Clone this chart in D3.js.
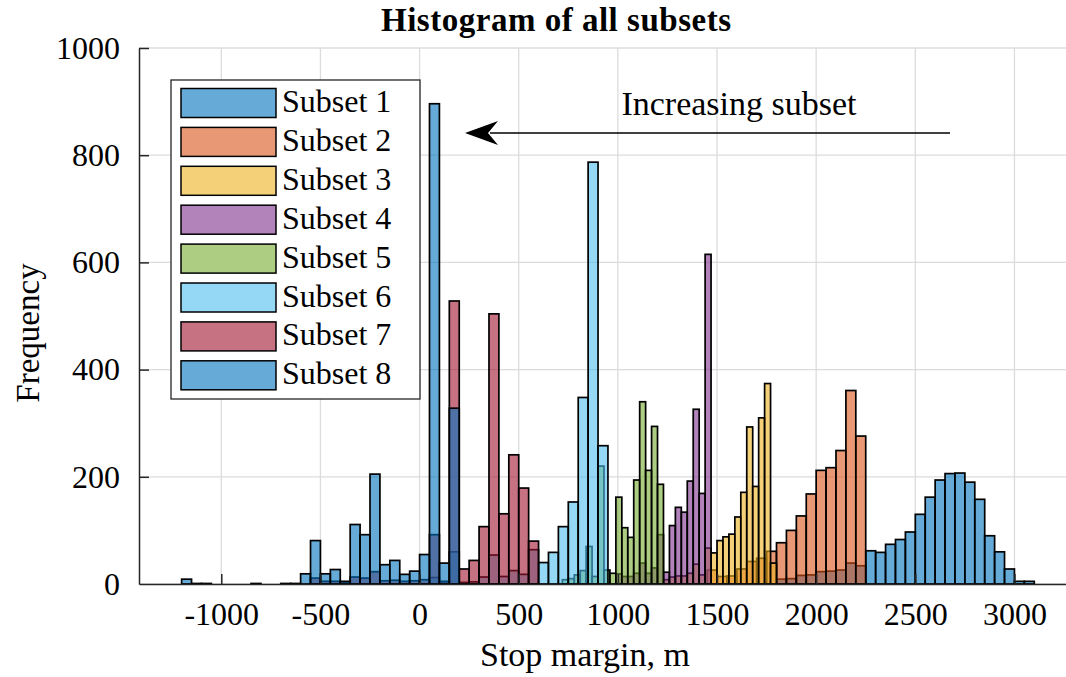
<!DOCTYPE html>
<html>
<head>
<meta charset="utf-8">
<script src="https://cdn.jsdelivr.net/npm/d3@7"></script>
<style>
  body { margin: 0; background: #fff; }
  svg text { font-family: "Liberation Serif", "Times New Roman", serif; fill: #000; }
</style>
</head>
<body>
<div id="chart"></div>
<script>
// subsets, drawn in this order (later ones on top)
const subsetNames = ["Subset 1", "Subset 2", "Subset 3", "Subset 4", "Subset 5", "Subset 6", "Subset 7", "Subset 8"];
const subsetColors = ["#0072BD", "#D95319", "#EDB120", "#7E2F8E", "#77AC30", "#4DBEEE", "#A2142F", "#0072BD"];
const binWidths = [50, 50, 30, 30, 30, 50, 50, 50];
const binStarts = [1800, 1450, 1230, 990, 720, 50, -550, -1200];

// counts per bin, starting at binStarts[i]
const counts1 = [9, 10, 16, 17, 23, 24, 26, 39, 34, 62, 59, 74, 83, 97, 130, 162, 194, 206, 207, 190, 158, 90, 60, 28, 5, 5];
const counts2 = [26, 14, 15, 28, 42, 48, 61, 77, 100, 127, 168, 212, 217, 249, 361, 276];
const counts3 = [8, 13, 15, 15, 20, 37, 17, 67, 58, 81, 88, 93, 125, 171, 293, 182, 310, 374, 39];
const counts4 = [19, 14, 14, 20, 39, 20, 30, 92, 22, 109, 143, 134, 192, 326, 169, 615];
const counts5 = [8, 10, 17, 25, 70, 14, 220, 26, 20, 162, 105, 87, 194, 340, 212, 294, 186];
const counts6 = [12, 4, 60, 3, 4, 13, 54, 14, 25, 18, 64, 40, 59, 107, 153, 348, 787, 258];
const counts7 = [11, 5, 5, 2, 13, 11, 23, 6, 7, 5, 6, 8, 92, 5, 528, 28, 44, 107, 504, 131, 241, 179, 80];
const counts8 = [9, 1, 1, 0, 0, 0, 0, 1, 0, 0, 1, 1, 19, 81, 19, 27, 5, 111, 92, 205, 36, 44, 18, 24, 55, 896, 39, 328];
const allCounts = [counts1, counts2, counts3, counts4, counts5, counts6, counts7, counts8];

const xTicks = [-1000, -500, 0, 500, 1000, 1500, 2000, 2500, 3000];
const yTicks = [0, 200, 400, 600, 800, 1000];
const xLimits = [-1415, 3260];
const yLimits = [0, 1000];

const W = 1066, H = 677;
const plot = {left: 139, right: 1066, top: 48, bottom: 584};
const axisColor = "#262626";

const svg = d3.select("#chart").append("svg")
  .attr("width", W)
  .attr("height", H);

const x = d3.scaleLinear().domain(xLimits).range([plot.left, plot.right]);
const y = d3.scaleLinear().domain(yLimits).range([plot.bottom, plot.top]);

// grid
svg.append("g").selectAll("line")
  .data(xTicks)
  .join("line")
  .attr("x1", d => x(d)).attr("x2", d => x(d))
  .attr("y1", plot.top).attr("y2", plot.bottom)
  .attr("stroke", "#dcdcdc").attr("stroke-width", 1.3);
svg.append("g").selectAll("line")
  .data(yTicks)
  .join("line")
  .attr("x1", plot.left).attr("x2", plot.right)
  .attr("y1", d => y(d)).attr("y2", d => y(d))
  .attr("stroke", "#dcdcdc").attr("stroke-width", 1.3);

// bars
allCounts.forEach((counts, i) => {
  const w = binWidths[i];
  const start = binStarts[i];
  svg.append("g")
    .selectAll("rect")
    .data(counts)
    .join("rect")
    .attr("x", (d, j) => x(start + j * w))
    .attr("width", (d, j) => x(start + (j + 1) * w) - x(start + j * w))
    .attr("y", d => y(d))
    .attr("height", d => y(0) - y(d))
    .attr("fill", subsetColors[i])
    .attr("fill-opacity", 0.6)
    .attr("stroke", "#000")
    .attr("stroke-width", 1.7);
});

// axes
const fmt = d => String(d);
const xAxis = svg.append("g")
  .attr("transform", `translate(0, ${plot.bottom})`)
  .call(d3.axisBottom(x).tickValues(xTicks).tickFormat(fmt).tickSize(-10).tickSizeOuter(0).tickPadding(18));
const yAxis = svg.append("g")
  .attr("transform", `translate(${plot.left}, 0)`)
  .call(d3.axisLeft(y).tickValues(yTicks).tickFormat(fmt).tickSize(-10).tickSizeOuter(0).tickPadding(19));

[xAxis, yAxis].forEach(g => {
  g.select(".domain").attr("stroke", axisColor).attr("stroke-width", 1.5);
  g.selectAll(".tick line").attr("stroke", axisColor).attr("stroke-width", 1.5);
  g.selectAll(".tick text")
    .attr("fill", "#000")
    .style("font-family", '"Liberation Serif", serif')
    .style("font-size", "32px");
});
yAxis.selectAll(".tick line").filter(d => d === 0).remove();

// labels
svg.append("text")
  .attr("x", 556).attr("y", 31)
  .attr("text-anchor", "middle")
  .style("font-size", "33px").style("font-weight", "bold")
  .attr("textLength", 350)
  .text("Histogram of all subsets");

svg.append("text")
  .attr("x", 585).attr("y", 666)
  .attr("text-anchor", "middle")
  .style("font-size", "34px")
  .text("Stop margin, m");

svg.append("text")
  .attr("transform", "translate(39, 333) rotate(-90)")
  .attr("text-anchor", "middle")
  .style("font-size", "33px")
  .text("Frequency");

// annotation arrow
svg.append("text")
  .attr("x", 739).attr("y", 115)
  .attr("text-anchor", "middle")
  .style("font-size", "34px")
  .text("Increasing subset");

svg.append("line")
  .attr("x1", 950).attr("y1", 133)
  .attr("x2", 490).attr("y2", 133)
  .attr("stroke", "#000").attr("stroke-width", 1.5);
svg.append("path")
  .attr("d", "M465,133 L498,121 L488,133 L498,145 Z")
  .attr("fill", "#000");

// legend
const legend = svg.append("g");
legend.append("rect")
  .attr("x", 171).attr("y", 80)
  .attr("width", 249).attr("height", 319)
  .attr("fill", "#fff")
  .attr("stroke", axisColor).attr("stroke-width", 1.3);

const items = legend.selectAll("g.item")
  .data(subsetNames)
  .join("g")
  .attr("class", "item")
  .attr("transform", (d, i) => `translate(0, ${i * 38.9})`);
items.append("rect")
  .attr("x", 181).attr("y", 88.5)
  .attr("width", 95).attr("height", 29)
  .attr("fill", (d, i) => subsetColors[i])
  .attr("fill-opacity", 0.6)
  .attr("stroke", "#000").attr("stroke-width", 1.5);
items.append("text")
  .attr("x", 282).attr("y", 112)
  .style("font-size", "32px")
  .text(d => d);
</script>
</body>
</html>
